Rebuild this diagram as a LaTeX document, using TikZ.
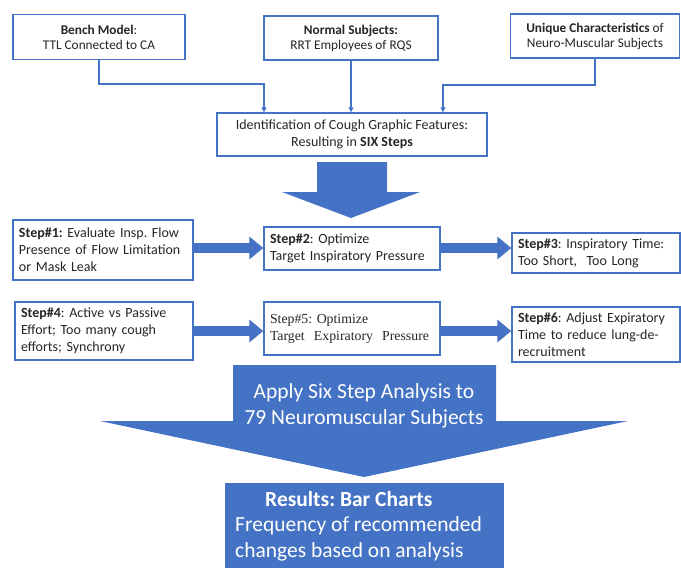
\documentclass[tikz,border=0pt]{standalone}
\usepackage{fontspec}
\setmainfont{Carlito}
\newfontfamily\timesf{Liberation Serif}
\usetikzlibrary{arrows.meta}
\definecolor{boxblue}{HTML}{4472C4}
\definecolor{txt}{HTML}{262626}
\frenchspacing
\begin{document}
\begin{tikzpicture}[x=1pt,y=-1pt,
  box/.style={draw=boxblue, line width=1.4pt, fill=white, inner sep=0pt, text=txt,
    font=\fontsize{13.3}{15}\selectfont, align=center},
  stepbox/.style={box, align=left, inner xsep=6pt, font=\fontsize{14}{17}\selectfont},
  conn/.style={draw=boxblue, line width=1.2pt, -{Triangle[width=5pt,length=5pt]}},
  fat/.style={draw=boxblue, line width=10pt, -{Triangle[width=22pt,length=14pt]}},
  bigarrow/.style={fill=boxblue},
  bigtext/.style={text=white, align=center, font=\fontsize{21.5}{25.5}\selectfont},
]
\useasboundingbox (0,0) rectangle (681,568);

% top boxes
\node[box, minimum width=172pt, minimum height=45pt] (b1) at (99,37)
  {\textbf{Bench Model}:\\TTL Connected to CA};
\node[box, minimum width=174pt, minimum height=44pt] (b2) at (351,38)
  {\textbf{Normal Subjects:}\\RRT Employees of RQS};
\node[box, minimum width=169pt, minimum height=44pt] (b3) at (595,36)
  {\textbf{Unique Characteristics} of\\Neuro-Muscular Subjects};

% centre box
\node[box, minimum width=270pt, minimum height=43pt, font=\fontsize{14}{17}\selectfont] (cen) at (352,134.5)
  {Identification of Cough Graphic Features:\\Resulting in \textbf{SIX Steps}};

% connectors
\coordinate (j1) at (264,84);
\coordinate (j3) at (443,85);
\draw[conn] (b1.south) |- (j1) -- (j1 |- cen.north);
\draw[conn] (b2.south) -- (b2.south |- cen.north);
\draw[conn] (b3.south) |- (j3) -- (j3 |- cen.north);

% big arrow 1
\fill[bigarrow] (317,162) -- (387,162) -- (387,192) -- (420,192) -- (351,218)
  -- (282,192) -- (317,192) -- cycle;

% step boxes
\node[stepbox, text width=168pt, minimum height=60pt] (s1) at (103,250)
  {\textbf{Step\#1:} Evaluate Insp. Flow\\Presence of Flow Limitation\\or Mask Leak};
\node[stepbox, text width=164pt, minimum height=43pt] (s2) at (352,248.5)
  {\textbf{Step\#2}: Optimize\\Target Inspiratory Pressure};
\node[stepbox, text width=156pt, minimum height=40pt] (s3) at (596,253)
  {\textbf{Step\#3}: Inspiratory Time:\\Too Short,\ \ Too Long};
\node[stepbox, text width=166pt, minimum height=58pt] (s4) at (104,331)
  {\textbf{Step\#4}: Active vs Passive\\Effort; Too many cough\\efforts; Synchrony};
\node[stepbox, text width=164pt, minimum height=53pt, font=\timesf\fontsize{13.8}{17}\selectfont] (s5) at (352,328.5)
  {Step\#5:\ Optimize\\Target\ \ Expiratory\ \ Pressure};
\node[stepbox, text width=156pt, minimum height=55pt] (s6) at (596,334.5)
  {\textbf{Step\#6}: Adjust Expiratory\\Time to reduce lung-de-\\recruitment};

% fat step arrows
\coordinate (r1) at (0,248);
\coordinate (r2) at (0,331);
\draw[fat] (s1.east |- r1) -- (s2.west |- r1);
\draw[fat] (s2.east |- r1) -- (s3.west |- r1);
\draw[fat] (s4.east |- r2) -- (s5.west |- r2);
\draw[fat] (s5.east |- r2) -- (s6.west |- r2);

% big arrow 2
\fill[bigarrow] (233,365) -- (496,365) -- (496,421) -- (628,421) -- (364,477)
  -- (100,421) -- (233,421) -- cycle;
\node[bigtext] (an) at (364,406) {Apply Six Step Analysis to\\79 Neuromuscular Subjects};

% results box
\node[fill=boxblue, minimum width=279pt, minimum height=86pt, inner sep=0pt] (res) at (364.5,526) {};
\node[text=white, align=left, anchor=north west, inner sep=0pt,
  font=\fontsize{21.5}{25.5}\selectfont] (rt) at (235,491)
  {\hspace*{30pt}\textbf{Results: Bar Charts}\\Frequency of recommended\\changes based on analysis};
\end{tikzpicture}
\end{document}
